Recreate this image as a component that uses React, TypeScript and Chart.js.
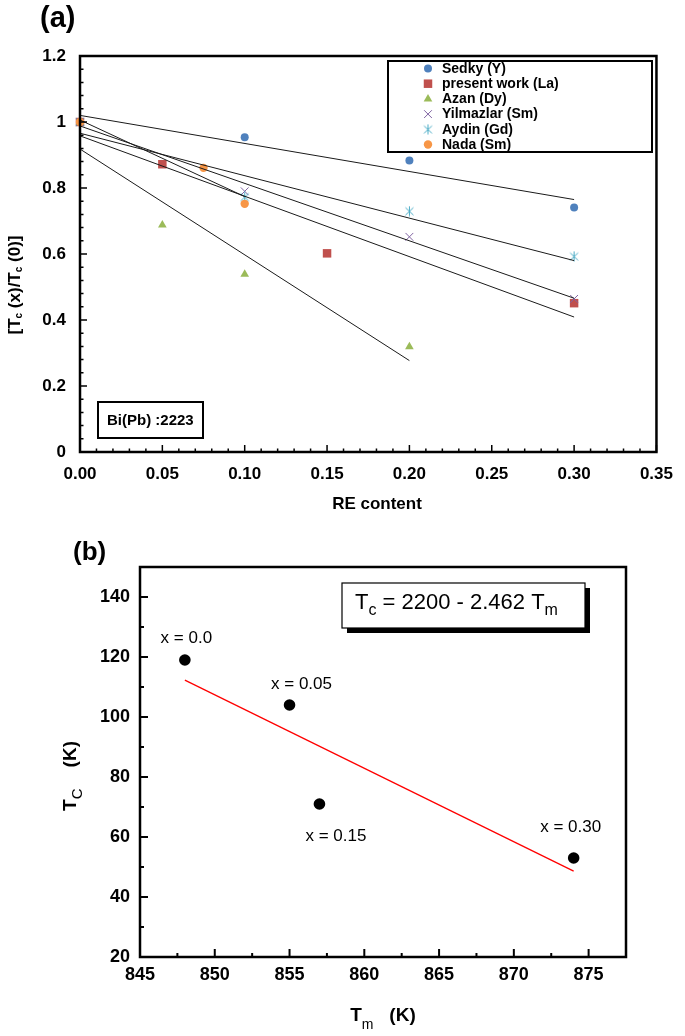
import React, { useEffect, useRef } from 'react';
import { Chart, registerables } from 'chart.js';

Chart.register(...registerables);

const FONT = '"Liberation Sans", Arial, Helvetica, sans-serif';

// ---------------- Panel (a) data ----------------
const seriesNamesA = ['Sedky (Y)', 'present work (La)', 'Azan (Dy)', 'Yilmazlar (Sm)', 'Aydin (Gd)', 'Nada (Sm)'];
const sedkyX = [0, 0.1, 0.2, 0.3];
const sedkyY = [1.0, 0.954, 0.883, 0.741];
const presentX = [0, 0.05, 0.15, 0.3];
const presentY = [1.0, 0.872, 0.602, 0.451];
const azanX = [0, 0.05, 0.1, 0.2];
const azanY = [1.0, 0.688, 0.539, 0.319];
const yilmazlarX = [0, 0.1, 0.2, 0.3];
const yilmazlarY = [1.0, 0.79, 0.652, 0.464];
const aydinX = [0, 0.1, 0.2, 0.3];
const aydinY = [1.0, 0.773, 0.73, 0.593];
const nadaX = [0, 0.075, 0.1];
const nadaY = [1.0, 0.861, 0.752];

// linear trend lines (end points)
const sedkyFitX = [0, 0.3];
const sedkyFitY = [1.02, 0.765];
const presentFitX = [0, 0.3];
const presentFitY = [0.958, 0.409];
const azanFitX = [0, 0.2];
const azanFitY = [0.918, 0.277];
const yilmazlarFitX = [0, 0.3];
const yilmazlarFitY = [0.988, 0.466];
const aydinFitX = [0, 0.3];
const aydinFitY = [0.966, 0.58];
const nadaFitX = [0, 0.1];
const nadaFitY = [1.006, 0.774];

const xTicksA = [0, 0.05, 0.1, 0.15, 0.2, 0.25, 0.3, 0.35];
const xTickLabelsA = ['0.00', '0.05', '0.10', '0.15', '0.20', '0.25', '0.30', '0.35'];
const yTicksA = [0, 0.2, 0.4, 0.6, 0.8, 1.0, 1.2];
const yTickLabelsA = ['0', '0.2', '0.4', '0.6', '0.8', '1', '1.2'];

// ---------------- Panel (b) data ----------------
const tmValues = [848, 855, 857, 874];
const tcValues = [119, 104, 71, 53];
const compositionLabels = ['x = 0.0', 'x = 0.05', 'x = 0.15', 'x = 0.30'];
const labelTm = [848.1, 855.8, 858.1, 873.8];
const labelTc = [126.2, 110.9, 60.3, 63.2];
const fitTm = [848, 874];
const fitTc = [112.3, 48.6];
const xTicksB = [845, 850, 855, 860, 865, 870, 875];
const xTickLabelsB = ['845', '850', '855', '860', '865', '870', '875'];
const yTicksB = [20, 40, 60, 80, 100, 120, 140];
const yTickLabelsB = ['20', '40', '60', '80', '100', '120', '140'];

const pts = (xs: number[], ys: number[]) => xs.map((x, i) => ({ x, y: ys[i] }));

type Seg = { t: string; f: string; dy?: number };

function drawRich(ctx: CanvasRenderingContext2D, segs: Seg[], x: number, y: number, align: 'left' | 'center', angle = 0) {
  ctx.save();
  ctx.translate(x, y);
  if (angle) ctx.rotate(angle);
  let w = 0;
  for (const s of segs) {
    ctx.font = s.f;
    w += ctx.measureText(s.t).width;
  }
  let cx = align === 'center' ? -w / 2 : 0;
  ctx.textAlign = 'left';
  ctx.textBaseline = 'alphabetic';
  ctx.fillStyle = '#000';
  for (const s of segs) {
    ctx.font = s.f;
    ctx.fillText(s.t, cx, s.dy || 0);
    cx += ctx.measureText(s.t).width;
  }
  ctx.restore();
}

function makeAsterisk(color: string) {
  const c = document.createElement('canvas');
  c.width = 11;
  c.height = 11;
  const g = c.getContext('2d')!;
  g.strokeStyle = color;
  g.lineWidth = 1;
  g.beginPath();
  g.moveTo(5.5, 0.5);
  g.lineTo(5.5, 10.5);
  g.moveTo(1.5, 2);
  g.lineTo(9.5, 9.5);
  g.moveTo(9.5, 2);
  g.lineTo(1.5, 9.5);
  g.stroke();
  return c;
}

function drawMarker(ctx: CanvasRenderingContext2D, ds: any, x: number, y: number) {
  const style = ds.pointStyle;
  const r = ds.pointRadius;
  ctx.save();
  ctx.fillStyle = ds.pointBackgroundColor;
  ctx.strokeStyle = ds.pointBorderColor;
  ctx.lineWidth = ds.pointBorderWidth || 1;
  if (typeof style !== 'string') {
    ctx.drawImage(style, x - style.width / 2, y - style.height / 2);
  } else if (style === 'circle') {
    ctx.beginPath();
    ctx.arc(x, y, r, 0, Math.PI * 2);
    ctx.fill();
  } else if (style === 'rect') {
    const s = r * Math.SQRT1_2;
    ctx.fillRect(x - s, y - s, 2 * s, 2 * s);
  } else if (style === 'triangle') {
    ctx.beginPath();
    let a = 0;
    ctx.moveTo(x + Math.sin(a) * r, y - Math.cos(a) * r);
    a += (2 * Math.PI) / 3;
    ctx.lineTo(x + Math.sin(a) * r, y - Math.cos(a) * r);
    a += (2 * Math.PI) / 3;
    ctx.lineTo(x + Math.sin(a) * r, y - Math.cos(a) * r);
    ctx.closePath();
    ctx.fill();
  } else if (style === 'crossRot') {
    const o = r * Math.SQRT1_2;
    ctx.beginPath();
    ctx.moveTo(x - o, y - o);
    ctx.lineTo(x + o, y + o);
    ctx.moveTo(x + o, y - o);
    ctx.lineTo(x - o, y + o);
    ctx.stroke();
  }
  ctx.restore();
}

function drawFrameAndTicks(
  chart: any,
  xMaj: number[], xMin: number[], yMaj: number[], yMin: number[],
  majLen: number, minLen: number, tickW: number, frameW: number
) {
  const { ctx, chartArea: ca, scales } = chart;
  const xs = scales.x;
  const ys = scales.y;
  ctx.save();
  ctx.strokeStyle = '#000';
  ctx.lineWidth = tickW;
  ctx.beginPath();
  for (const v of xMaj) {
    const p = xs.getPixelForValue(v);
    ctx.moveTo(p, ca.bottom);
    ctx.lineTo(p, ca.bottom - majLen);
  }
  for (const v of xMin) {
    const p = xs.getPixelForValue(v);
    ctx.moveTo(p, ca.bottom);
    ctx.lineTo(p, ca.bottom - minLen);
  }
  for (const v of yMaj) {
    const p = ys.getPixelForValue(v);
    ctx.moveTo(ca.left, p);
    ctx.lineTo(ca.left + majLen, p);
  }
  for (const v of yMin) {
    const p = ys.getPixelForValue(v);
    ctx.moveTo(ca.left, p);
    ctx.lineTo(ca.left + minLen, p);
  }
  ctx.stroke();
  ctx.lineWidth = frameW;
  ctx.strokeRect(ca.left, ca.top, ca.right - ca.left, ca.bottom - ca.top);
  ctx.restore();
}

function buildChartA(canvas: HTMLCanvasElement) {
  const colors = ['#4F81BD', '#C0504D', '#9BBB59', '#8064A2', '#4BACC6', '#F79646'];
  const aster = makeAsterisk(colors[4]);
  const base = { clip: false, showLine: false, pointBorderWidth: 0 };
  const pointSets: any[] = [
    { ...base, label: seriesNamesA[0], data: pts(sedkyX, sedkyY), pointStyle: 'circle', pointRadius: 4, pointBackgroundColor: colors[0], pointBorderColor: colors[0], order: 6 },
    { ...base, label: seriesNamesA[1], data: pts(presentX, presentY), pointStyle: 'rect', pointRadius: 6, pointBackgroundColor: colors[1], pointBorderColor: colors[1], order: 5 },
    { ...base, label: seriesNamesA[2], data: pts(azanX, azanY), pointStyle: 'triangle', pointRadius: 5, pointBackgroundColor: colors[2], pointBorderColor: colors[2], order: 4 },
    { ...base, label: seriesNamesA[3], data: pts(yilmazlarX, yilmazlarY), pointStyle: 'crossRot', pointRadius: 5.5, pointBackgroundColor: colors[3], pointBorderColor: colors[3], pointBorderWidth: 1, order: 3 },
    { ...base, label: seriesNamesA[4], data: pts(aydinX, aydinY), pointStyle: aster, pointRadius: 5, pointBackgroundColor: colors[4], pointBorderColor: colors[4], order: 2 },
    { ...base, label: seriesNamesA[5], data: pts(nadaX, nadaY), pointStyle: 'circle', pointRadius: 4.2, pointBackgroundColor: colors[5], pointBorderColor: colors[5], order: 1 },
  ];
  const fitBase = { clip: false, showLine: true, pointRadius: 0, borderColor: '#1a1a1a', borderWidth: 1, fill: false, tension: 0, order: 0 };
  const fitSets: any[] = [
    { ...fitBase, label: 'fit Y', data: pts(sedkyFitX, sedkyFitY) },
    { ...fitBase, label: 'fit La', data: pts(presentFitX, presentFitY) },
    { ...fitBase, label: 'fit Dy', data: pts(azanFitX, azanFitY) },
    { ...fitBase, label: 'fit Sm', data: pts(yilmazlarFitX, yilmazlarFitY) },
    { ...fitBase, label: 'fit Gd', data: pts(aydinFitX, aydinFitY) },
    { ...fitBase, label: 'fit Nada', data: pts(nadaFitX, nadaFitY) },
  ];

  const xMinor: number[] = [];
  for (let i = 1; i < 35; i++) if (i % 5 !== 0) xMinor.push(i / 100);
  const yMinor: number[] = [];
  for (let i = 1; i < 30; i++) if (i % 5 !== 0) yMinor.push(i * 0.04);

  const plugin = {
    id: 'panelA',
    afterDraw(chart: any) {
      const ctx = chart.ctx as CanvasRenderingContext2D;
      drawFrameAndTicks(chart, xTicksA, xMinor, yTicksA, yMinor, 7, 3.5, 1.5, 2.5);

      // legend box
      ctx.save();
      ctx.fillStyle = '#fff';
      ctx.fillRect(388, 61, 264, 91);
      ctx.strokeStyle = '#000';
      ctx.lineWidth = 2;
      ctx.strokeRect(388, 61, 264, 91);
      ctx.textAlign = 'left';
      ctx.textBaseline = 'middle';
      pointSets.forEach((ds, i) => {
        const y = 68.5 + i * 15.2;
        drawMarker(ctx, ds, 428, y);
        ctx.fillStyle = '#000';
        ctx.font = `bold 14px ${FONT}`;
        ctx.fillText(ds.label, 442, y + 0.5);
      });
      // Bi(Pb) box
      ctx.lineWidth = 2;
      ctx.strokeRect(98, 402, 105, 36);
      ctx.font = `bold 15px ${FONT}`;
      ctx.fillStyle = '#000';
      ctx.fillText('Bi(Pb) :2223', 107, 421);
      ctx.restore();

      // titles
      drawRich(ctx, [{ t: '(a)', f: `bold 29px ${FONT}` }], 40, 27, 'left');
      drawRich(ctx, [{ t: 'RE content', f: `bold 17px ${FONT}` }], 377, 509, 'center');
      const b = `bold 17px ${FONT}`;
      const s = `bold 10px ${FONT}`;
      drawRich(
        ctx,
        [
          { t: '[T', f: b },
          { t: 'c', f: s, dy: 2 },
          { t: ' (x)/T', f: b },
          { t: 'c', f: s, dy: 2 },
          { t: ' (0)]', f: b },
        ],
        20,
        285,
        'center',
        -Math.PI / 2
      );
    },
  };

  return new Chart(canvas, {
    type: 'scatter',
    data: { datasets: [...pointSets, ...fitSets] },
    options: {
      animation: false,
      responsive: false,
      maintainAspectRatio: false,
      layout: { padding: { left: 0, top: 56, right: 21, bottom: 0 } },
      plugins: { legend: { display: false }, tooltip: { enabled: false } },
      scales: {
        x: {
          type: 'linear',
          min: 0,
          max: 0.35,
          afterBuildTicks: (sc: any) => {
            sc.ticks = xTicksA.map((v) => ({ value: v }));
          },
          afterFit: (sc: any) => {
            sc.height = 68;
          },
          grid: { display: false, drawTicks: false },
          border: { display: false },
          ticks: {
            autoSkip: false,
            maxRotation: 0,
            padding: 12,
            color: '#000',
            font: { family: FONT, size: 17, weight: 'bold' },
            callback: (_v: any, i: number) => xTickLabelsA[i],
          },
        },
        y: {
          type: 'linear',
          min: 0,
          max: 1.2,
          afterBuildTicks: (sc: any) => {
            sc.ticks = yTicksA.map((v) => ({ value: v }));
          },
          afterFit: (sc: any) => {
            sc.width = 80;
          },
          grid: { display: false, drawTicks: false },
          border: { display: false },
          ticks: {
            autoSkip: false,
            padding: 14,
            color: '#000',
            font: { family: FONT, size: 17, weight: 'bold' },
            callback: (_v: any, i: number) => yTickLabelsA[i],
          },
        },
      },
    } as any,
    plugins: [plugin],
  });
}

function buildChartB(canvas: HTMLCanvasElement) {
  const xMinor = [847.5, 852.5, 857.5, 862.5, 867.5, 872.5];
  const yMinor = [30, 50, 70, 90, 110, 130];

  const plugin = {
    id: 'panelB',
    afterDraw(chart: any) {
      const ctx = chart.ctx as CanvasRenderingContext2D;
      drawFrameAndTicks(chart, xTicksB, xMinor, yTicksB, yMinor, 8, 4, 2, 2.5);
      const xs = chart.scales.x;
      const ys = chart.scales.y;
      ctx.save();
      ctx.fillStyle = '#000';
      ctx.font = `17px ${FONT}`;
      ctx.textAlign = 'center';
      ctx.textBaseline = 'middle';
      compositionLabels.forEach((t, i) => {
        ctx.fillText(t, xs.getPixelForValue(labelTm[i]), ys.getPixelForValue(labelTc[i]));
      });
      // equation box with shadow
      ctx.fillStyle = '#000';
      ctx.fillRect(347, 68, 243, 45);
      ctx.fillStyle = '#fff';
      ctx.fillRect(342, 63, 243, 45);
      ctx.strokeStyle = '#000';
      ctx.lineWidth = 1.2;
      ctx.strokeRect(342, 63, 243, 45);
      ctx.restore();
      const n = `22px ${FONT}`;
      const sb = `16px ${FONT}`;
      drawRich(
        ctx,
        [
          { t: 'T', f: n },
          { t: 'c', f: sb, dy: 6 },
          { t: ' = 2200 - 2.462 T', f: n },
          { t: 'm', f: sb, dy: 6 },
        ],
        355,
        89,
        'left'
      );

      drawRich(ctx, [{ t: '(b)', f: `bold 26px ${FONT}` }], 73, 40, 'left');
      const bf = `bold 19px ${FONT}`;
      drawRich(
        ctx,
        [
          { t: 'T', f: bf },
          { t: 'm', f: `14px ${FONT}`, dy: 8 },
          { t: '   (K)', f: bf },
        ],
        383,
        501,
        'center'
      );
      drawRich(
        ctx,
        [
          { t: 'T', f: bf },
          { t: 'C', f: `15px ${FONT}`, dy: 6 },
          { t: '    (K)', f: bf },
        ],
        76,
        256,
        'center',
        -Math.PI / 2
      );
    },
  };

  return new Chart(canvas, {
    type: 'scatter',
    data: {
      datasets: [
        {
          label: 'Tc vs Tm',
          data: pts(tmValues, tcValues),
          pointStyle: 'circle',
          pointRadius: 5.8,
          pointBackgroundColor: '#000',
          pointBorderColor: '#000',
          pointBorderWidth: 0,
          showLine: false,
          clip: false,
          order: 1,
        },
        {
          label: 'fit',
          data: pts(fitTm, fitTc),
          showLine: true,
          pointRadius: 0,
          borderColor: '#FF0000',
          borderWidth: 1.3,
          tension: 0,
          fill: false,
          order: 2,
        },
      ],
    },
    options: {
      animation: false,
      responsive: false,
      maintainAspectRatio: false,
      layout: { padding: { left: 0, top: 47, right: 59, bottom: 0 } },
      plugins: { legend: { display: false }, tooltip: { enabled: false } },
      scales: {
        x: {
          type: 'linear',
          min: 845,
          max: 877.5,
          afterBuildTicks: (sc: any) => {
            sc.ticks = xTicksB.map((v) => ({ value: v }));
          },
          afterFit: (sc: any) => {
            sc.height = 79;
          },
          grid: { display: false, drawTicks: false },
          border: { display: false },
          ticks: {
            autoSkip: false,
            maxRotation: 0,
            padding: 7,
            color: '#000',
            font: { family: FONT, size: 18, weight: 'bold' },
            callback: (_v: any, i: number) => xTickLabelsB[i],
          },
        },
        y: {
          type: 'linear',
          min: 20,
          max: 150,
          afterBuildTicks: (sc: any) => {
            sc.ticks = yTicksB.map((v) => ({ value: v }));
          },
          afterFit: (sc: any) => {
            sc.width = 140;
          },
          grid: { display: false, drawTicks: false },
          border: { display: false },
          ticks: {
            autoSkip: false,
            padding: 10,
            color: '#000',
            font: { family: FONT, size: 18, weight: 'bold' },
            callback: (_v: any, i: number) => yTickLabelsB[i],
          },
        },
      },
    } as any,
    plugins: [plugin],
  });
}

export default function App() {
  const refA = useRef<HTMLCanvasElement>(null);
  const refB = useRef<HTMLCanvasElement>(null);

  useEffect(() => {
    const a = buildChartA(refA.current!);
    const b = buildChartB(refB.current!);
    return () => {
      a.destroy();
      b.destroy();
    };
  }, []);

  return (
    <div style={{ position: 'absolute', left: 0, top: 0, width: 685, height: 1036, background: '#fff' }}>
      <canvas
        ref={refA}
        width={685}
        height={520}
        style={{ position: 'absolute', left: 0, top: 0, width: 685, height: 520 }}
      />
      <canvas
        ref={refB}
        width={685}
        height={516}
        style={{ position: 'absolute', left: 0, top: 520, width: 685, height: 516 }}
      />
    </div>
  );
}
